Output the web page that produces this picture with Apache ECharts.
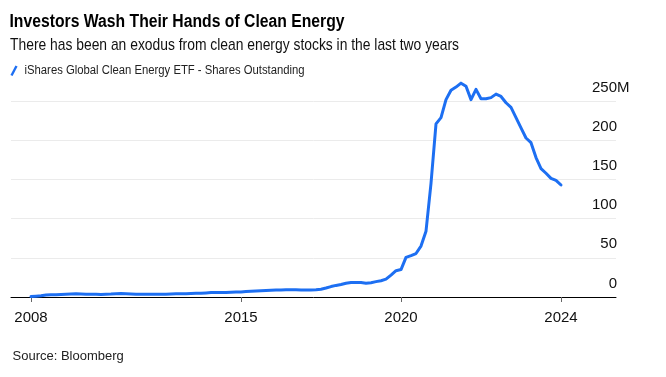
<!DOCTYPE html>
<html><head><meta charset="utf-8">
<script src="https://cdn.jsdelivr.net/npm/echarts@6/dist/echarts.min.js"></script>
<style>html,body{margin:0;padding:0;background:#fff}#c{width:666px;height:377px}</style>
</head><body><div id="c"></div>
<script>
const TITLE = 'Investors Wash Their Hands of Clean Energy';
const SUBTITLE = 'There has been an exodus from clean energy stocks in the last two years';
const SERIES_NAME = 'iShares Global Clean Energy ETF - Shares Outstanding';
const SOURCE = 'Source: Bloomberg';

const categories = [
 '2007-05','2007-07','2007-09','2007-11',
 '2008-01','2008-03','2008-05','2008-07','2008-09','2008-11',
 '2009-01','2009-03','2009-05','2009-07','2009-09','2009-11',
 '2010-01','2010-03','2010-05','2010-07','2010-09','2010-11',
 '2011-01','2011-03','2011-05','2011-07','2011-09','2011-11',
 '2012-01','2012-03','2012-05','2012-07','2012-09','2012-11',
 '2013-01','2013-03','2013-05','2013-07','2013-09','2013-11',
 '2014-01','2014-03','2014-05','2014-07','2014-09','2014-11',
 '2015-01','2015-02','2015-04','2015-06','2015-08','2015-10','2015-12',
 '2016-02','2016-04','2016-05','2016-07','2016-09','2016-11',
 '2017-01','2017-03','2017-05','2017-07','2017-08','2017-10','2017-12',
 '2018-02','2018-04','2018-06','2018-08','2018-10','2018-11',
 '2019-01','2019-03','2019-05','2019-07','2019-09','2019-11',
 '2020-01','2020-02','2020-04','2020-05','2020-07','2020-08','2020-10','2020-11',
 '2021-01','2021-02','2021-04','2021-05','2021-07','2021-08','2021-10','2021-11',
 '2022-01','2022-02','2022-04','2022-05','2022-07','2022-08','2022-10','2022-11',
 '2023-01','2023-02','2023-04','2023-05','2023-07','2023-08','2023-10','2023-11',
 '2024-01','2024-02','2024-04','2024-05','2024-07','2024-08','2024-10','2024-11',
 '2025-01','2025-02','2025-04','2025-05'
];

// Shares outstanding, millions (null where the series has no data)
const sharesOutstanding = [
 null,null,null,null,
 0.5,1,1.5,2.5,3,3,
 3.3,3.5,3.8,4,3.8,3.6,
 3.5,3.4,3.3,3.5,3.8,4.3,
 4.5,4.2,3.9,3.6,3.5,3.4,
 3.4,3.5,3.5,3.6,3.8,4,
 4.2,4.3,4.5,4.8,4.9,5.2,
 5.6,5.8,5.9,5.8,6,6.3,
 6.5,7,7.4,7.8,8.1,8.4,8.6,
 8.8,9,9.2,9.2,9.1,9,
 8.9,9,9.3,10,11.5,13.3,14.8,
 15.9,17.5,18.5,18.6,18.5,17.6,
 18.3,19.6,20.8,22.8,28,33.6,
 35,50.5,52.8,55.5,65,84,145,221,
 229,252,264,268,273,269,252,265,
 253,253,254.5,259,256,248,242,229,
 216,203,197,178,164,158,151.5,149,
 143,null,null,null,null,null,null,null,
 null,null,null,null
];

const xTickLabels = ['2008-01','2015-01','2020-01','2024-01'];
const yTicks = [0, 50, 100, 150, 200, 250];
const Y_UNIT = 'M';

const chart = echarts.init(document.getElementById('c'), null, {renderer:'canvas'});
const BLUE = '#1d6ff2';
const FONT = "'Liberation Sans', Arial, sans-serif";
const option = {
  animation: false,
  backgroundColor: '#fff',
  textStyle: {fontFamily: FONT},
  title: [
    {text: SOURCE, left: 12.5, top: 349.5, padding: 0,
     textStyle: {fontFamily: FONT, fontWeight: 'normal', fontSize: 13, color: '#222'}}
  ],
  grid: {left: 11, right: 50, top: 62, bottom: 80, containLabel: false},
  xAxis: {
    type: 'category', data: categories, boundaryGap: false,
    axisLine: {show: true, lineStyle: {color: '#000', width: 1}},
    axisTick: {show: true, length: 5, lineStyle: {color: '#666'}, alignWithLabel: true,
      interval: (i, v) => xTickLabels.includes(v)},
    axisLabel: {interval: (i, v) => xTickLabels.includes(v), formatter: v => v.slice(0,4),
      margin: 13, fontSize: 15, color: '#111', fontFamily: FONT},
    splitLine: {show: false}
  },
  yAxis: {
    type: 'value', position: 'right', min: 0, max: 300, interval: 50,
    axisLine: {show: false}, axisTick: {show: false},
    splitLine: {show: true, showMaxLine: false, lineStyle: {color: '#ebebeb', width: 1}},
    axisLabel: {inside: true, margin: -1, fontSize: 15, color: '#111', fontFamily: FONT,
      verticalAlign: 'bottom', padding: [0,0,6,0], showMaxLabel: false,
      formatter: v => yTicks.includes(v) ? String(v) : ''}
  },
  series: [{
    name: SERIES_NAME, type: 'line', data: sharesOutstanding, showSymbol: false, symbol: 'none',
    connectNulls: false, itemStyle: {color: BLUE},
    lineStyle: {color: BLUE, width: 3, join: 'round', cap: 'round'}
  }]
};
chart.setOption(option);
const p = chart.convertToPixel({yAxisIndex: 0}, 250);
const right = chart.convertToPixel({xAxisIndex: 0}, categories.length - 1);
chart.setOption({graphic: [
  {type: 'text', x: 9.5, y: 13, scaleX: 0.894, silent: true,
   style: {text: TITLE, font: "bold 17.6px " + FONT, fill: '#000', verticalAlign: 'top'}},
  {type: 'text', x: 10, y: 37.5, scaleX: 0.856, silent: true,
   style: {text: SUBTITLE, font: "16.2px " + FONT, fill: '#111', verticalAlign: 'top'}},
  {type: 'line', silent: true, shape: {x1: 11.5, y1: 75.5, x2: 16.5, y2: 66},
   style: {stroke: BLUE, lineWidth: 2.4, lineCap: 'butt'}},
  {type: 'text', x: 24.5, y: 64.5, scaleX: 0.919, silent: true,
   style: {text: SERIES_NAME, font: "12.3px " + FONT, fill: '#222', verticalAlign: 'top'}},
  {type: 'text', left: right + 1, top: p - 6 - 15, silent: true,
   style: {text: Y_UNIT, font: "15px " + FONT, fill: '#111'}}
]});
</script></body></html>
